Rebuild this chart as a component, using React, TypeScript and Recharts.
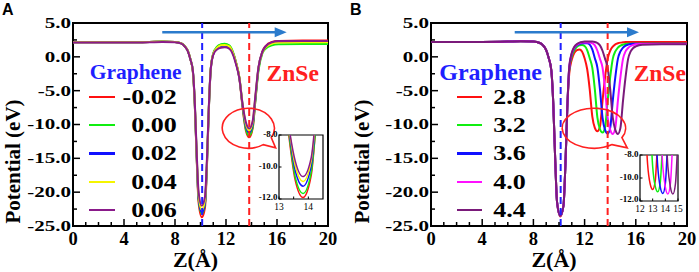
import React from 'react';
import { LineChart, Line, XAxis, YAxis, ReferenceLine, ReferenceArea, ReferenceDot, Legend } from 'recharts';

const SERIF = '"Liberation Serif", "Times New Roman", serif';
const SANS = '"Liberation Sans", Arial, sans-serif';

// ---------- Panel A : strain series ----------
const zA = [0, 2, 4, 6, 7, 8, 8.5, 8.75, 9, 9.2, 9.4, 9.55, 9.7, 9.85, 10.1, 10.35, 10.5, 10.65, 10.8, 11, 11.3, 11.6, 11.9, 12.25, 12.55, 12.8, 13.05, 13.3, 13.55, 13.82, 14.1, 14.3, 14.55, 14.85, 15.1, 15.6, 16.1, 18, 20];
const aNeg002 = [2.15, 2.15, 2.15, 2.2, 2.25, 2.2, 2.0, 1.6, 0.9, -0.3, -2.2, -7.0, -15.0, -21.5, -23.7, -22.3, -16.5, -8.0, -2.0, 0.4, 1.4, 1.75, 1.85, 1.6, 0.6, -1.0, -3.2, -7.5, -10.8, -11.9, -10.5, -6.5, -1.7, 0.8, 1.6, 2.2, 2.35, 2.4, 2.4];
const a000 = [2.15, 2.15, 2.15, 2.2, 2.25, 2.2, 2.0, 1.6, 0.9, -0.3, -2.1, -6.9, -14.8, -21.1, -23.2, -21.8, -16.2, -7.9, -1.9, 0.5, 1.5, 1.85, 1.95, 1.7, 0.7, -0.9, -3.1, -7.3, -10.6, -11.65, -10.3, -6.6, -2.0, 0.5, 1.2, 1.7, 1.85, 1.9, 1.9];
const a002 = [2.15, 2.15, 2.15, 2.2, 2.25, 2.2, 2.0, 1.6, 0.9, -0.3, -2.1, -6.8, -14.6, -20.9, -23.0, -21.6, -16.0, -7.8, -1.9, 0.4, 1.3, 1.6, 1.65, 1.45, 0.5, -1.0, -3.1, -7.1, -10.2, -11.2, -9.9, -6.2, -1.6, 0.7, 1.5, 2.1, 2.25, 2.3, 2.3];
const a004 = [2.15, 2.15, 2.15, 2.2, 2.25, 2.2, 2.0, 1.6, 0.9, -0.3, -2.1, -6.7, -14.4, -20.5, -22.6, -21.2, -15.7, -7.6, -1.8, 0.45, 1.35, 1.7, 1.75, 1.55, 0.55, -0.95, -3.0, -7.0, -9.9, -10.9, -9.6, -6.0, -1.6, 0.6, 1.4, 1.95, 2.1, 2.15, 2.15];
const a006 = [2.1, 2.1, 2.1, 2.15, 2.2, 2.15, 1.95, 1.55, 0.85, -0.35, -2.0, -6.5, -14.0, -20.0, -22.0, -20.7, -15.3, -7.5, -1.9, 0.3, 1.1, 1.35, 1.4, 1.2, 0.3, -1.2, -3.2, -7.0, -9.6, -10.6, -9.4, -5.8, -1.5, 0.7, 1.5, 2.15, 2.3, 2.35, 2.35];
const namesA = ['-0.02', '0.00', '0.02', '0.04', '0.06'];
const colorsA = ['#ff1010', '#10ee10', '#1010ff', '#f5f500', '#8a1a8a'];

// ---------- Panel B : interlayer distance series ----------
const zB = [0, 2, 4, 6, 7, 8, 8.5, 8.75, 9, 9.2, 9.4, 9.55, 9.7, 9.85, 10.1, 10.35, 10.5, 10.65, 10.8, 11.0, 11.2, 11.4, 11.6, 11.8, 12.0, 12.2, 12.4, 12.6, 12.8, 13.0, 13.2, 13.4, 13.6, 13.8, 14.0, 14.2, 14.4, 14.6, 14.8, 15.0, 15.2, 15.4, 15.6, 15.8, 16.0, 16.5, 18, 20];
const b28 = [2.2, 2.2, 2.2, 2.25, 2.3, 2.25, 2.05, 1.7, 1.0, -0.2, -2.0, -6.8, -15.0, -21.5, -23.6, -22.0, -16.0, -7.5, -2.5, -0.4, 0.6, 1.0, 1.1, 0.8, -0.2, -1.8, -4.8, -8.8, -10.5, -11.0, -10.3, -6.5, -3.0, -0.3, 0.9, 1.5, 1.85, 2.0, 2.1, 2.15, 2.2, 2.2, 2.2, 2.2, 2.2, 2.2, 2.2, 2.2];
const b32 = [2.2, 2.2, 2.2, 2.25, 2.3, 2.25, 2.05, 1.7, 1.0, -0.2, -2.0, -6.8, -15.0, -21.5, -23.5, -22.0, -16.0, -7.5, -1.9, 0.1, 1.0, 1.5, 1.7, 1.75, 1.6, 1.0, -0.2, -1.6, -4.8, -9.0, -10.7, -11.2, -10.4, -6.5, -3.0, -0.3, 0.8, 1.35, 1.65, 1.8, 1.9, 1.95, 1.95, 1.95, 1.95, 1.95, 1.95, 1.95];
const b36 = [2.2, 2.2, 2.2, 2.25, 2.3, 2.25, 2.05, 1.7, 1.0, -0.2, -2.0, -6.8, -15.0, -21.5, -23.5, -22.0, -16.0, -7.5, -1.7, 0.4, 1.3, 1.7, 1.9, 2.0, 2.0, 2.0, 1.8, 1.1, -0.2, -1.6, -4.8, -9.0, -10.8, -11.35, -10.5, -6.5, -3.0, -0.3, 0.8, 1.35, 1.65, 1.8, 1.9, 1.95, 1.95, 1.95, 1.95, 1.95];
const b40 = [2.2, 2.2, 2.2, 2.25, 2.3, 2.25, 2.05, 1.7, 1.0, -0.2, -2.0, -6.8, -15.0, -21.5, -23.5, -22.0, -16.0, -7.5, -1.6, 0.5, 1.4, 1.8, 2.0, 2.1, 2.1, 2.1, 2.1, 2.0, 1.7, 0.9, -0.3, -1.6, -4.8, -9.0, -10.8, -11.4, -10.5, -6.5, -3.0, -0.3, 0.8, 1.3, 1.6, 1.75, 1.85, 1.9, 1.9, 1.9];
const b44 = [2.2, 2.2, 2.2, 2.25, 2.3, 2.25, 2.05, 1.7, 1.0, -0.2, -2.0, -6.8, -15.0, -21.5, -23.5, -22.0, -16.0, -7.5, -1.5, 0.6, 1.5, 1.9, 2.1, 2.2, 2.25, 2.25, 2.25, 2.25, 2.2, 2.05, 1.7, 0.9, -0.3, -1.6, -4.8, -9.0, -10.8, -11.4, -10.5, -6.5, -3.0, -0.3, 0.8, 1.3, 1.55, 1.8, 1.85, 1.85];
const namesB = ['2.8', '3.2', '3.6', '4.0', '4.4'];
const colorsB = ['#ff1010', '#10ee10', '#1010ff', '#ff10ff', '#7a1a7a'];

// ---------- axes ----------
const xTicksMain = [0, 1, 2, 3, 4, 5, 6, 7, 8, 9, 10, 11, 12, 13, 14, 15, 16, 17, 18, 19, 20];
const yTicksMain = [-25, -22.5, -20, -17.5, -15, -12.5, -10, -7.5, -5, -2.5, 0, 2.5, 5];
const insetYTicks = [-12, -10, -8];

const buildTable = (z: number[], series: number[][]) =>
  z.map((x, i) => {
    const row: any = { z: x };
    series.forEach((s, k) => { row['s' + k] = s[i]; });
    return row;
  });

const tableA = buildTable(zA, [aNeg002, a000, a002, a004, a006]);
const tableB = buildTable(zB, [b28, b32, b36, b40, b44]);

const XTick = (props: any) => {
  const { x, y, payload } = props;
  const v = Number(payload.value);
  const major = Math.abs(v % 4) < 1e-9;
  return (
    <g>
      <line x1={x} x2={x} y1={y} y2={y - (major ? 7 : 4)} stroke="#000" strokeWidth={1.5} />
      {major ? (
        <text x={x} y={y + 19} textAnchor="middle" fontFamily={SERIF} fontWeight={700} fontSize={18.5} fill="#000">{v}</text>
      ) : null}
    </g>
  );
};

const YTick = (props: any) => {
  const { x, y, payload } = props;
  const v = Number(payload.value);
  const major = Math.abs(v % 5) < 1e-9;
  return (
    <g>
      <line x1={x} x2={x + (major ? 7 : 4)} y1={y} y2={y} stroke="#000" strokeWidth={1.5} />
      {major ? (
        <text transform={`translate(${x - 2},${y}) scale(1,0.7)`} textAnchor="end" dominantBaseline="central" fontFamily={SERIF} fontWeight={700} fontSize={21} fill="#000">{v.toFixed(1)}</text>
      ) : null}
    </g>
  );
};

const InsetXTick = (props: any) => {
  const { x, y, payload } = props;
  const v = Number(payload.value);
  const isInt = Math.abs(v % 1) < 1e-9;
  return (
    <g>
      <line x1={x} x2={x} y1={y} y2={y - 2.5} stroke="#000" strokeWidth={1} />
      {isInt ? (
        <text x={x} y={y + 10.5} textAnchor="middle" fontFamily={SERIF} fontSize={9.5} fill="#000">{v}</text>
      ) : null}
    </g>
  );
};

const InsetYTick = (props: any) => {
  const { x, y, payload } = props;
  const v = Number(payload.value);
  const yy = v === -12 ? y - 1.5 : y;
  return (
    <g>
      <line x1={x} x2={x + 2.5} y1={y} y2={y} stroke="#000" strokeWidth={1} />
      <text transform={`translate(${x - 1.5},${yy}) scale(1,0.8)`} textAnchor="end" dominantBaseline="central" fontFamily={SERIF} fontWeight={700} fontSize={9} fill="#000">{v.toFixed(1)}</text>
    </g>
  );
};

const yLabel = (props: any) => {
  const vb = props.viewBox || { x: 0, y: 23, width: 73, height: 203 };
  const cx = (vb.x ?? 0) + 19.5;
  const cy = (vb.y ?? 23) + (vb.height ?? 203) / 2 + 37;
  return (
    <text transform={`translate(${cx},${cy}) rotate(-90)`} textAnchor="middle" fontFamily={SERIF} fontWeight={700} fontSize={21} fill="#000">Potential (eV)</text>
  );
};

const xLabel = (props: any) => {
  const vb = props.viewBox || { x: 73, y: 226, width: 255, height: 46 };
  return (
    <text x={(vb.x ?? 0) + (vb.width ?? 0) / 2 - 5} y={(vb.y ?? 226) + 41} textAnchor="middle" fontFamily={SERIF} fontWeight={700} fontSize={22} fill="#000">Z(Å)</text>
  );
};

const Bubble = (props: any) => {
  const { cx, cy, rx, ry } = props;
  if (cx == null || cy == null) return null;
  const pt = (deg: number) => {
    const t = (deg * Math.PI) / 180;
    return [cx + rx * Math.cos(t), cy + ry * Math.sin(t)];
  };
  const [sx, sy] = pt(55);
  const [ex, ey] = pt(28);
  const tx = cx + rx * 1.05;
  const ty = cy + ry * 0.98;
  const d = `M ${sx} ${sy} A ${rx} ${ry} 0 1 1 ${ex} ${ey} L ${tx} ${ty} Z`;
  return <path d={d} fill="none" stroke="#ff2020" strokeWidth={1.6} strokeLinejoin="miter" />;
};

const ArrowHead = (props: any) => {
  const { cx, cy } = props;
  if (cx == null || cy == null) return null;
  return <polygon points={`${cx},${cy} ${cx - 12},${cy - 5} ${cx - 12},${cy + 5}`} fill="#2b7bcc" />;
};

const makeLegend = (names: string[], colors: string[], lineW: number, textW: number) => () => (
  <div style={{ display: 'flex', flexDirection: 'column' }}>
    {names.map((n, i) => (
      <div key={n} style={{ display: 'flex', alignItems: 'center', height: 28.4 }}>
        <div style={{ width: lineW, height: 2.2, background: colors[i] }} />
        <div style={{ width: textW, textAlign: 'right', fontFamily: SERIF, fontWeight: 700, fontSize: 26, lineHeight: '28px', transform: 'scaleY(0.82)', whiteSpace: 'nowrap', color: '#000' }}>{n}</div>
      </div>
    ))}
  </div>
);

function Inset(p: any) {
  const keys = p.names.map((_: string, i: number) => 's' + i);
  return (
    <div style={{ position: 'absolute', left: p.left, top: p.top, width: p.w, height: p.h }}>
      <LineChart width={p.w} height={p.h} data={p.data} margin={{ top: 6, right: 6, bottom: 0, left: 0 }}>
        <XAxis dataKey="z" type="number" domain={p.domain} allowDataOverflow ticks={p.ticks} interval={0} tickSize={0} tickMargin={0} axisLine={false} tickLine={false} height={16} tick={InsetXTick} />
        <YAxis type="number" domain={[-12, -8]} allowDataOverflow ticks={insetYTicks} interval={0} tickSize={0} tickMargin={0} axisLine={false} tickLine={false} width={40} tick={InsetYTick} />
        {keys.map((k: string, i: number) => (
          <Line key={k} dataKey={k} stroke={p.colors[i]} strokeWidth={1.5} dot={false} type="monotone" isAnimationActive={false} />
        ))}
        <ReferenceArea x1={p.domain[0]} x2={p.domain[1]} y1={-12} y2={-8} fill="none" stroke="#000" strokeWidth={1.2} ifOverflow="visible" />
      </LineChart>
    </div>
  );
}

function Panel(p: any) {
  const keys = p.names.map((_: string, i: number) => 's' + i);
  return (
    <div style={{ position: 'absolute', left: p.left, top: 0, width: p.width, height: 272 }}>
      <LineChart width={p.width} height={272} data={p.data} margin={{ top: 23, right: p.marginRight, bottom: 0, left: 0 }}>
        <XAxis dataKey="z" type="number" domain={[0, 20]} ticks={xTicksMain} interval={0} tickSize={0} tickMargin={0} axisLine={false} tickLine={false} height={46} tick={XTick} label={xLabel} />
        <YAxis type="number" domain={[-25, 5]} ticks={yTicksMain} interval={0} tickSize={0} tickMargin={0} axisLine={false} tickLine={false} width={p.yAxisWidth} tick={YTick} label={yLabel} />
        {keys.map((k: string, i: number) => (
          <Line key={k} dataKey={k} name={p.names[i]} stroke={p.colors[i]} strokeWidth={2} dot={false} type="monotone" isAnimationActive={false} />
        ))}
        <ReferenceLine
          x={p.blueX}
          stroke="#1f1fff"
          strokeWidth={2}
          strokeDasharray="7 4"
          label={(lp: any) => {
            const vb = lp.viewBox || {};
            return (
              <text x={(vb.x ?? 0) - p.grapheneDx} y={(vb.y ?? 23) + p.grapheneDy} textAnchor="end" fill="#1f1fff" fontFamily={SERIF} fontWeight={700} fontSize={p.grapheneSize}>Graphene</text>
            );
          }}
        />
        <ReferenceLine
          x={p.redX}
          stroke="#ff2020"
          strokeWidth={2}
          strokeDasharray="7 4"
          label={(lp: any) => {
            const vb = lp.viewBox || {};
            return (
              <text x={(vb.x ?? 0) + p.znseDx} y={(vb.y ?? 23) + 58} textAnchor="start" fill="#ff2020" fontFamily={SERIF} fontWeight={700} fontSize={23.5}>ZnSe</text>
            );
          }}
        />
        <ReferenceLine segment={[{ x: p.arrow.x1, y: p.arrow.y }, { x: p.arrow.x2, y: p.arrow.y }]} stroke="#2b7bcc" strokeWidth={2.5} />
        <ReferenceDot x={p.arrow.tip} y={p.arrow.y} r={0} ifOverflow="visible" shape={(dp: any) => <ArrowHead cx={dp.cx} cy={dp.cy} />} />
        <ReferenceDot x={p.bubble.x} y={p.bubble.y} r={0} ifOverflow="visible" shape={(dp: any) => <Bubble cx={dp.cx} cy={dp.cy} rx={p.bubble.rx} ry={p.bubble.ry} />} />
        <ReferenceArea x1={0} x2={20} y1={-25} y2={5} fill="none" stroke="#000" strokeWidth={2} ifOverflow="visible" />
        <Legend
          layout="vertical"
          align="center"
          verticalAlign="middle"
          content={makeLegend(p.names, p.colors, p.legend.lineW, p.legend.textW)}
          wrapperStyle={{ left: p.legend.left, top: p.legend.top, width: 'auto', height: 'auto' }}
        />
      </LineChart>
      <Inset data={p.data} names={p.names} colors={p.colors} {...p.inset} />
    </div>
  );
}

export default function App() {
  return (
    <div style={{ position: 'absolute', left: 0, top: 0, width: 699, height: 272, background: '#fff', overflow: 'hidden' }}>
      <Panel
        left={0}
        width={349}
        yAxisWidth={73}
        marginRight={21}
        data={tableA}
        names={namesA}
        colors={colorsA}
        blueX={10.13}
        redX={13.82}
        grapheneDx={20.5}
        grapheneDy={56}
        grapheneSize={21.5}
        znseDx={17.4}
        arrow={{ x1: 7.0, x2: 16.13, tip: 16.76, y: 3.63 }}
        bubble={{ x: 13.75, y: -10.55, rx: 26, ry: 20 }}
        legend={{ left: 89, top: 82.5, lineW: 26, textW: 61.7 }}
        inset={{ left: 239, top: 129, w: 90, h: 86, domain: [13, 14.5], ticks: [13, 13.5, 14] }}
      />
      <Panel
        left={349}
        width={350}
        yAxisWidth={82}
        marginRight={12}
        data={tableB}
        names={namesB}
        colors={colorsB}
        blueX={10.13}
        redX={13.8}
        grapheneDx={18.7}
        grapheneDy={57}
        grapheneSize={24}
        znseDx={26}
        arrow={{ x1: 6.54, x2: 15.63, tip: 16.25, y: 3.63 }}
        bubble={{ x: 12.73, y: -10.55, rx: 31.7, ry: 20 }}
        legend={{ left: 108, top: 82.5, lineW: 25, textW: 43.7 }}
        inset={{ left: 251, top: 149, w: 84, h: 68, domain: [12, 15], ticks: [12, 13, 14, 15] }}
      />
      <div style={{ position: 'absolute', left: 2, top: 2, fontFamily: SANS, fontWeight: 700, fontSize: 16, lineHeight: '16px', color: '#000' }}>A</div>
      <div style={{ position: 'absolute', left: 350, top: 2, fontFamily: SANS, fontWeight: 700, fontSize: 16, lineHeight: '16px', color: '#000' }}>B</div>
    </div>
  );
}
